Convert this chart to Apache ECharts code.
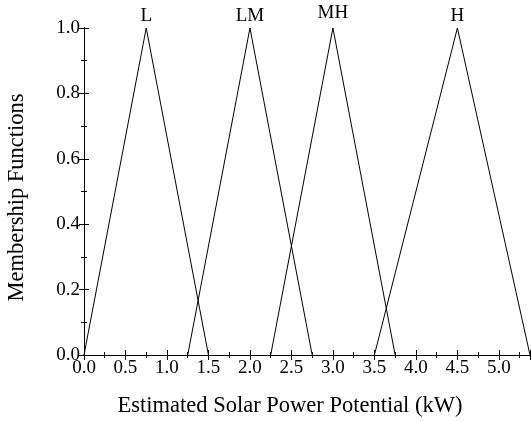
<!DOCTYPE html>
<html>
<head>
<meta charset="utf-8">
<script src="https://cdn.jsdelivr.net/npm/echarts@6/dist/echarts.min.js"></script>
<style>html,body{margin:0;padding:0;background:#fff}#c{width:531px;height:421px}</style>
</head>
<body>
<div id="c"></div>
<script>
// Triangular membership functions: [left foot, peak, right foot]
const setNames = ['L', 'LM', 'MH', 'H'];
const feet = [
  [0.0, 0.75, 1.5],
  [1.25, 2.0, 2.75],
  [2.25, 3.0, 3.75],
  [3.5, 4.5, 5.375]
];
const grades = [0, 1, 0];
const xMax = 5.375;
const labelLift = [2, 2, 5, 2];

const font = 'Liberation Serif, Times New Roman, serif';
const chart = echarts.init(document.getElementById('c'));

const series = setNames.map((name, i) => ({
  type: 'line',
  name: name,
  xAxisIndex: 0,
  yAxisIndex: 0,
  symbol: 'circle',
  symbolSize: 0,
  showAllSymbol: true,
  silent: true,
  lineStyle: { color: '#000', width: 1 },
  itemStyle: { color: '#000' },
  label: {
    show: true, position: 'top', distance: labelLift[i], color: '#000', fontFamily: font, fontSize: 19,
    formatter: p => (p.dataIndex === 1 ? name : '')
  },
  data: feet[i].map((x, k) => [x, grades[k]])
}));

const tickStyle = { show: true, inside: true, length: 5, lineStyle: { color: '#000' } };
const minorStyle = { show: true, splitNumber: 2, length: 3, lineStyle: { color: '#000' } };

chart.setOption({
  animation: false,
  grid: { left: 84, right: 1, top: 28, bottom: 66, outerBoundsMode: 'none', containLabel: false },
  xAxis: [
    {
      type: 'value', min: 0, max: xMax, interval: 0.5, position: 'bottom',
      axisLine: { lineStyle: { color: '#000' } },
      axisTick: tickStyle, minorTick: minorStyle,
      splitLine: { show: false },
      axisLabel: { color: '#000', fontFamily: font, fontSize: 19, margin: 4, showMaxLabel: false,
        formatter: v => v.toFixed(1) },
      name: 'Estimated Solar Power Potential (kW)', nameLocation: 'middle', nameGap: 40,
      nameTextStyle: { color: '#000', fontFamily: font, fontSize: 22.5, padding: [0, 34, 0, 0] }
    },
    {
      type: 'value', min: 0, max: xMax, interval: 0.5, position: 'top',
      axisLine: { show: true, lineStyle: { color: '#000' } },
      axisTick: tickStyle, minorTick: minorStyle,
      splitLine: { show: false }, axisLabel: { show: false }
    }
  ],
  yAxis: [
    {
      type: 'value', min: 0, max: 1, interval: 0.2, position: 'left',
      axisLine: { show: true, lineStyle: { color: '#000' } },
      axisTick: tickStyle, minorTick: minorStyle,
      splitLine: { show: false },
      axisLabel: { color: '#000', fontFamily: font, fontSize: 19, margin: 4, formatter: v => v.toFixed(1) },
      name: 'Membership Functions', nameLocation: 'middle', nameGap: 55,
      nameTextStyle: { color: '#000', fontFamily: font, fontSize: 22.5, padding: [0, 12, 0, 0] }
    },
    {
      type: 'value', min: 0, max: 1, interval: 0.2, position: 'right',
      axisLine: { show: true, lineStyle: { color: '#000' } },
      axisTick: tickStyle, minorTick: minorStyle,
      splitLine: { show: false }, axisLabel: { show: false }
    }
  ],
  series: series
});
</script>
</body>
</html>
